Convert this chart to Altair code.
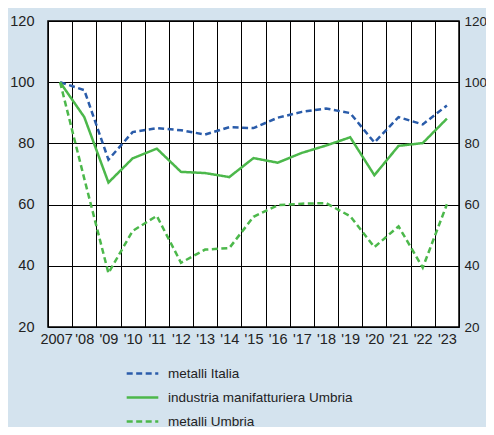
import altair as alt
import pandas as pd

years = ["2007", "'08", "'09", "'10", "'11", "'12", "'13", "'14", "'15",
         "'16", "'17", "'18", "'19", "'20", "'21", "'22", "'23"]

metalli_italia = [100, 97.4, 74.7, 83.7, 85.0, 84.3, 82.9, 85.3, 85.0,
                  88.4, 90.3, 91.4, 89.9, 80.3, 88.6, 86.2, 92.4]
industria_umbria = [100, 88.6, 67.2, 75.1, 78.3, 70.7, 70.3, 69.0, 75.2,
                    73.7, 76.9, 79.3, 82.0, 69.6, 79.2, 80.1, 88.1]
metalli_umbria = [100, 68.5, 37.6, 51.4, 56.3, 41.0, 45.3, 45.8, 56.0,
                  59.8, 60.3, 60.5, 56.2, 46.1, 52.9, 39.4, 60.1]

series_names = ["metalli Italia", "industria manifatturiera Umbria", "metalli Umbria"]
series_colors = ["#2a5caa", "#4cb84b", "#4cb84b"]
series_dash = [[6, 3.5], [1, 0], [6, 3.5]]
y_ticks = [20, 40, 60, 80, 100, 120]

rows = []
for name, vals in zip(series_names, [metalli_italia, industria_umbria, metalli_umbria]):
    for i, (yr, v) in enumerate(zip(years, vals)):
        rows.append({"anno": yr, "valore": v, "serie": name, "ord": i})
df = pd.DataFrame(rows)

font = "Liberation Sans"

x_enc = alt.X(
    "anno:N", sort=years, bandPosition=0.5,
    scale=alt.Scale(type="band", paddingInner=0, paddingOuter=0),
    axis=alt.Axis(title=None, grid=True, tickBand="extent", gridColor="black",
                  gridOpacity=1, gridWidth=1, ticks=False, domain=False,
                  labelAngle=0, labelPadding=5, labelFontSize=14.5,
                  labelColor="#222222", labelFont=font, labelOverlap=False,
                  labelBound=False,
                  labelOffset={"condition": {"test": "datum.value === '2007'", "value": -4},
                               "value": 0}),
)

y_scale = alt.Scale(domain=[20, 120], nice=False, zero=False)

color_enc = alt.Color("serie:N", sort=series_names,
                      scale=alt.Scale(domain=series_names, range=series_colors),
                      legend=alt.Legend(title=None))
dash_enc = alt.StrokeDash("serie:N", sort=series_names,
                          scale=alt.Scale(domain=series_names, range=series_dash),
                          legend=alt.Legend(title=None))

left = alt.Chart(df).mark_line(strokeWidth=2.5).encode(
    x=x_enc,
    y=alt.Y("valore:Q", scale=y_scale,
            axis=alt.Axis(title=None, orient="left", values=y_ticks, grid=True,
                          gridColor="black", gridOpacity=1, gridWidth=1,
                          ticks=False, domain=False, labelPadding=14,
                          labelFontSize=14.5, labelColor="#222222",
                          labelFont=font)),
    color=color_enc,
    strokeDash=dash_enc,
    order="ord:Q",
)

right = alt.Chart(df).mark_line(strokeWidth=2.5, strokeOpacity=0).encode(
    x=x_enc,
    y=alt.Y("valore:Q", scale=y_scale,
            axis=alt.Axis(title=None, orient="right", values=y_ticks, grid=False,
                          ticks=False, domain=False, labelPadding=5,
                          labelFontSize=13.5, labelColor="#222222",
                          labelFont=font)),
    color=alt.Color("serie:N", sort=series_names,
                    scale=alt.Scale(domain=series_names, range=series_colors),
                    legend=None),
    strokeDash=alt.StrokeDash("serie:N", sort=series_names,
                              scale=alt.Scale(domain=series_names, range=series_dash),
                              legend=None),
    order="ord:Q",
)

chart = alt.layer(left, right).resolve_axis(y="independent").properties(
    width=411,
    height=306,
    autosize=alt.AutoSizeParams(type="none"),
    padding={"left": 40, "top": 13, "right": 27, "bottom": 100},
    background="#d4e3ee",
).configure_view(
    fill="white", stroke="black", strokeWidth=1.5,
).configure_legend(
    orient="none", legendX=77, legendY=335, padding=0,
    labelFontSize=13.5, labelFont=font, labelColor="#222222", labelLimit=400,
    symbolType="stroke", symbolSize=1000, symbolStrokeWidth=2.5,
    labelOffset=8, rowPadding=-8,
)

chart.save("out.html", embed_options={"renderer": "svg", "actions": False})
